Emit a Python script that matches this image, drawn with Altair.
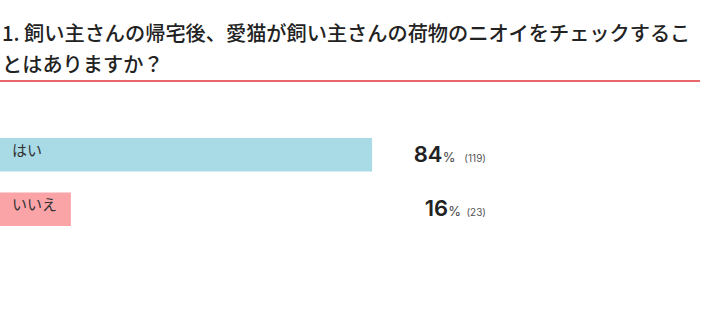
import altair as alt
import pandas as pd

# ---- data ----
title_lines = [
    "1. 飼い主さんの帰宅後、愛猫が飼い主さんの荷物のニオイをチェックするこ",
    "とはありますか？",
]
categories = ["はい", "いいえ"]
percents = [84, 16]
counts = [119, 23]
bar_colors = ["#a8dbe6", "#fba4a8"]

df = pd.DataFrame({"cat": categories, "pct": percents, "cnt": counts})

W, H = 710, 332
x_scale = alt.Scale(domain=[0, 100], range=[0, 443])
y_scale = alt.Scale(domain=categories, range=[138, 226], paddingInner=0.385, paddingOuter=0)
color_scale = alt.Scale(domain=categories, range=bar_colors)

base = alt.Chart(df)

bars = base.mark_bar(opacity=1).encode(
    x=alt.X("pct:Q", scale=x_scale, axis=None),
    y=alt.Y("cat:N", scale=y_scale, axis=None, sort=categories),
    color=alt.Color("cat:N", scale=color_scale, legend=None),
)

cat_labels = base.mark_text(
    align="left", baseline="middle", dy=-4, font="Noto Sans CJK JP",
    fontSize=15, color="#333333"
).encode(
    x=alt.value(12),
    y=alt.Y("cat:N", scale=y_scale, axis=None, sort=categories),
    text="cat:N",
)

lab = base.transform_calculate(
    cnt_label="'(' + datum.cnt + ')'",
).transform_calculate(
    pct_x="486 - length(datum.cnt_label) * 5.5 - 3",
).transform_calculate(
    num_x="datum.pct_x - 13",
)

cnt_text = lab.mark_text(
    align="right", baseline="alphabetic", dy=7, font="Inter",
    fontSize=10, color="#555555"
).encode(
    x=alt.value(486),
    y=alt.Y("cat:N", scale=y_scale, axis=None, sort=categories),
    text="cnt_label:N",
)

pct_sign = lab.mark_text(
    align="right", baseline="alphabetic", dy=7, font="Inter",
    fontSize=13, color="#444444"
).encode(
    x=alt.X("pct_x:Q", scale=None, axis=None),
    y=alt.Y("cat:N", scale=y_scale, axis=None, sort=categories),
    text=alt.value("%"),
)

num_text = lab.mark_text(
    align="right", baseline="alphabetic", dy=7, font="Inter",
    fontSize=22, fontWeight=600, color="#222222"
).encode(
    x=alt.X("num_x:Q", scale=None, axis=None),
    y=alt.Y("cat:N", scale=y_scale, axis=None, sort=categories),
    text="pct:Q",
)

title1 = alt.Chart(pd.DataFrame({"t": [title_lines[0]]})).mark_text(
    align="left", baseline="middle", font="Noto Sans CJK JP",
    fontSize=20.2, fontWeight=500, color="#222222"
).encode(x=alt.value(2), y=alt.value(35), text="t:N")

title2 = alt.Chart(pd.DataFrame({"t": [title_lines[1]]})).mark_text(
    align="left", baseline="middle", font="Noto Sans CJK JP",
    fontSize=20.2, fontWeight=500, color="#222222"
).encode(x=alt.value(2), y=alt.value(66), text="t:N")

rule = alt.Chart(pd.DataFrame({"a": [0]})).mark_rule(
    color="#e8676b", strokeWidth=2
).encode(x=alt.value(0), x2=alt.value(700), y=alt.value(81))

chart = alt.layer(
    bars, cat_labels, cnt_text, pct_sign, num_text, title1, title2, rule
).resolve_scale(x="independent").properties(
    width=W, height=H, autosize="none", padding=0, background="white"
).configure_view(stroke=None)

chart.save("out.html", embed_options={"renderer": "svg", "actions": False})
